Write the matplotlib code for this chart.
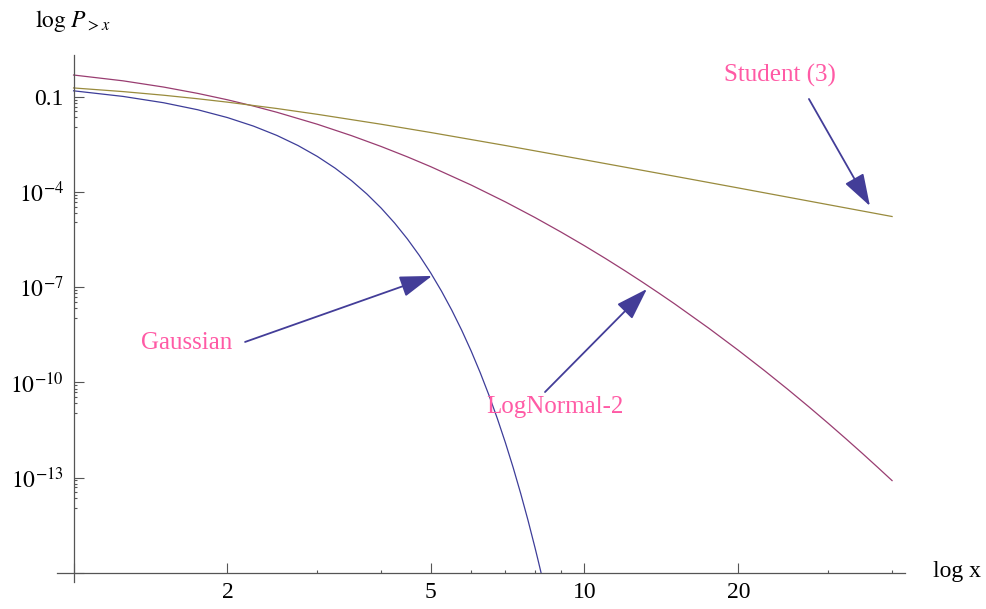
import numpy as np
import matplotlib
matplotlib.use('Agg')
import matplotlib.pyplot as plt

plt.rcParams['font.family'] = ['Liberation Serif', 'DejaVu Serif']
plt.rcParams['mathtext.fontset'] = 'stix'

# survival functions P(X > x)
gauss_x = [1, 1.25, 1.5, 1.75, 2, 2.25, 2.5, 2.75, 3, 3.25, 3.5, 3.75, 4, 4.25, 4.5, 4.75,
           5, 5.25, 5.5, 5.75, 6, 6.25, 6.5, 6.75, 7, 7.25, 7.5, 7.75, 8, 8.1, 8.22]
gauss_p = [0.1587, 0.1056, 0.0668, 0.0401, 0.02275, 0.01222, 0.00621, 0.00298, 0.00135,
           5.77e-4, 2.326e-4, 8.84e-5, 3.167e-5, 1.069e-5, 3.398e-6, 1.02e-6,
           2.867e-7, 7.61e-8, 1.899e-8, 4.46e-9, 9.866e-10, 2.05e-10, 4.016e-11, 7.39e-12,
           1.280e-12, 2.09e-13, 3.191e-14, 4.60e-15, 6.221e-16, 2.75e-16, 1.02e-16]

logn_x = [1, 1.25, 1.5, 1.75, 2, 2.25, 2.5, 3, 3.5, 4, 4.5, 5, 6, 7, 8, 9, 10, 11, 12, 13,
          14, 15, 17.5, 20, 22.5, 25, 27.5, 30, 32.5, 35, 37.5, 40]
logn_p = [0.5, 0.3277, 0.2087, 0.1315, 0.0828, 0.0524, 0.0334, 0.0140, 0.00611, 0.00278,
          0.001314, 6.43e-4, 1.695e-4, 4.98e-5, 1.60e-5, 5.54e-6, 2.06e-6, 8.10e-7, 3.35e-7,
          1.449e-7, 6.52e-8, 3.05e-8, 5.19e-9, 1.04e-9, 2.38e-10, 6.08e-11, 1.70e-11,
          5.15e-12, 1.67e-12, 5.77e-13, 2.10e-13, 8.04e-14]

stud_x = [1, 1.25, 1.5, 1.75, 2, 2.5, 3, 4, 5, 7, 10, 15, 20, 30, 40]
stud_p = [0.1955, 0.1500, 0.1153, 0.0892, 0.0697, 0.0439, 0.0288, 0.0140, 0.00769,
          0.00299, 0.00106, 3.22e-4, 1.37e-4, 4.07e-5, 1.72e-5]

x_major = [1, 2, 5, 10, 20]
x_major_labels = ['', '2', '5', '10', '20']
x_minor = [3, 4, 6, 7, 8, 9, 30, 40]
y_exps = [-16, -13, -10, -7, -4, -1]
y_labels = ['', r'$10^{-13}$', r'$10^{-10}$', r'$10^{-7}$', r'$10^{-4}$', '0.1']

fig = plt.figure(figsize=(9.87, 6.09), dpi=100)
ax = fig.add_axes([57/987, 27/609, 848/987, 527/609])
ax.set_xscale('log')
ax.set_yscale('log')
ax.set_xlim(0.928, 42.4)
ax.set_ylim(5.09e-17, 2.14)

ax.plot(gauss_x, gauss_p, color='#3D3D99', lw=0.9)
ax.plot(logn_x, logn_p, color='#993D71', lw=0.9)
ax.plot(stud_x, stud_p, color='#998B3D', lw=0.9)

axcol = '#555555'
for s in ['top', 'right']:
    ax.spines[s].set_visible(False)
ax.spines['left'].set_position(('data', 1))
ax.spines['bottom'].set_position(('data', 1e-16))
for s in ['left', 'bottom']:
    ax.spines[s].set_color(axcol)
    ax.spines[s].set_linewidth(0.9)

ax.set_xticks(x_major)
ax.set_xticklabels(x_major_labels)
ax.set_xticks(x_minor, minor=True)
ax.set_xticklabels([], minor=True)

y_major = [10.0**e for e in y_exps]
ax.set_yticks(y_major)
ax.set_yticklabels(y_labels)
offs = [0.085, 0.19, 0.31, 0.45, 0.64, 0.95]
y_minor = [10.0**(e - d) for e in y_exps[1:] for d in offs]
ax.set_yticks(y_minor, minor=True)
ax.set_yticklabels([], minor=True)

ax.tick_params(which='both', direction='in', color=axcol, width=0.8, labelsize=17, pad=7)
ax.tick_params(which='major', length=7)
ax.tick_params(which='minor', length=2.5)

fig.text(35/987, 1 - 27/609, r'$\mathrm{log}\ P_{>x}$', fontsize=17, va='baseline')
fig.text(933/987, 1 - 572/609, 'log x', fontsize=17, va='center')

pink = '#FF5AA5'
arr = '#433D98'
ap = dict(arrowstyle='-|>,head_length=1.0,head_width=0.33', color=arr, lw=1.3,
          mutation_scale=20, shrinkA=0, shrinkB=0)

ax.text(1.668, 1.8e-9, 'Gaussian', color=pink, fontsize=18, ha='center', va='center')
ax.annotate('', xy=(5.03, 2.3e-7), xytext=(2.166, 1.9e-9), arrowprops=ap)

ax.text(8.75, 1.7e-11, 'LogNormal-2', color=pink, fontsize=18, ha='center', va='center')
ax.annotate('', xy=(13.25, 8.9e-8), xytext=(8.37, 5.0e-11), arrowprops=ap)

ax.text(24.1, 0.5, 'Student (3)', color=pink, fontsize=18, ha='center', va='center')
ax.annotate('', xy=(36.2, 3.7e-5), xytext=(27.5, 0.0877), arrowprops=ap)

fig.savefig('out.png', dpi=100)
